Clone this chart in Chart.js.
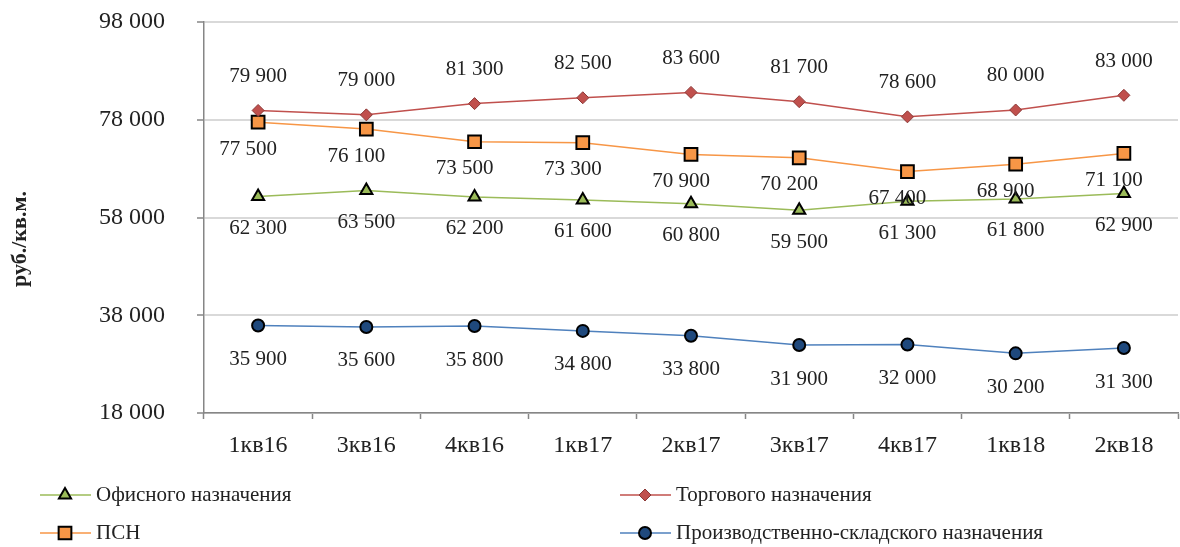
<!DOCTYPE html>
<html>
<head>
<meta charset="utf-8">
<script src="https://cdn.jsdelivr.net/npm/chart.js@4/dist/chart.umd.min.js"></script>
<style>
  html, body { margin: 0; padding: 0; background: #fff; width: 1180px; height: 547px; overflow: hidden; }
  #wrap { width: 1189px; height: 547px; position: relative; }
</style>
</head>
<body>
<div id="wrap"><canvas id="c"></canvas></div>
<script>
// ---- data ----
const categories = ['1кв16','3кв16','4кв16','1кв17','2кв17','3кв17','4кв17','1кв18','2кв18'];
const officeValues = [62300, 63500, 62200, 61600, 60800, 59500, 61300, 61800, 62900];
const retailValues = [79900, 79000, 81300, 82500, 83600, 81700, 78600, 80000, 83000];
const psnValues = [77500, 76100, 73500, 73300, 70900, 70200, 67400, 68900, 71100];
const industrialValues = [35900, 35600, 35800, 34800, 33800, 31900, 32000, 30200, 31300];
const seriesNames = ['Офисного назначения', 'Торгового назначения', 'ПСН', 'Производственно-складского назначения'];
const yMin = 18000, yMax = 98000, yStep = 20000;
const yTitle = 'руб./кв.м.';

const FONT = '"Liberation Serif", "Times New Roman", serif';
const fmt = v => String(v).replace(/\B(?=(\d{3})+(?!\d))/g, ' ');

const datasets = [
  { label: seriesNames[0], data: officeValues, borderColor: '#9bbb59', backgroundColor: '#9bbb59',
    pointStyle: 'triangle', pointRadius: 7, pointBorderColor: '#000', pointBorderWidth: 2, pointBackgroundColor: '#9bbb59',
    labelDx: 0, labelDy: 32 },
  { label: seriesNames[1], data: retailValues, borderColor: '#c0504d', backgroundColor: '#c0504d',
    pointStyle: 'rectRot', pointRadius: 6, pointBorderColor: '#8c3836', pointBorderWidth: 1, pointBackgroundColor: '#c0504d',
    labelDx: 0, labelDy: -34 },
  { label: seriesNames[2], data: psnValues, borderColor: '#f79646', backgroundColor: '#f79646',
    pointStyle: 'rect', pointRadius: 9, pointBorderColor: '#000', pointBorderWidth: 2, pointBackgroundColor: '#f79646',
    labelDx: -10, labelDy: 27 },
  { label: seriesNames[3], data: industrialValues, borderColor: '#4f81bd', backgroundColor: '#4f81bd',
    pointStyle: 'circle', pointRadius: 6, pointBorderColor: '#000', pointBorderWidth: 2, pointBackgroundColor: '#1f497d',
    labelDx: 0, labelDy: 34 }
];
datasets.forEach(d => { d.borderWidth = 1.5; d.tension = 0; d.pointHoverRadius = d.pointRadius; });

const labelPlugin = {
  id: 'valueLabels',
  afterDatasetsDraw(chart) {
    const ctx = chart.ctx;
    ctx.save();
    ctx.font = '21px ' + FONT;
    ctx.fillStyle = '#222';
    ctx.textAlign = 'center';
    ctx.textBaseline = 'middle';
    chart.data.datasets.forEach((ds, i) => {
      const meta = chart.getDatasetMeta(i);
      meta.data.forEach((pt, j) => {
        ctx.fillText(fmt(ds.data[j]), pt.x + ds.labelDx, pt.y + ds.labelDy);
      });
    });
    ctx.restore();
  }
};

const legendPlugin = {
  id: 'gridLegend',
  afterDraw(chart) {
    const ctx = chart.ctx;
    const cols = [40, 620];
    const rows = [495, 533];
    chart.data.datasets.forEach((ds, i) => {
      const x = cols[i % 2], y = rows[Math.floor(i / 2)];
      ctx.save();
      ctx.strokeStyle = ds.borderColor;
      ctx.lineWidth = 1.5;
      ctx.beginPath(); ctx.moveTo(x, y); ctx.lineTo(x + 51, y); ctx.stroke();
      ctx.fillStyle = ds.pointBackgroundColor;
      ctx.strokeStyle = ds.pointBorderColor;
      ctx.lineWidth = ds.pointBorderWidth;
      Chart.helpers.drawPoint(ctx, { pointStyle: ds.pointStyle, radius: ds.pointRadius, rotation: 0, borderWidth: ds.pointBorderWidth }, x + 25, y);
      ctx.fillStyle = '#222';
      ctx.font = '21px ' + FONT;
      ctx.textAlign = 'left';
      ctx.textBaseline = 'middle';
      ctx.fillText(ds.label, x + 56, y);
      ctx.restore();
    });
    // y axis title
    ctx.save();
    ctx.translate(20, 239);
    ctx.rotate(-Math.PI / 2);
    ctx.font = 'bold 22px ' + FONT;
    ctx.fillStyle = '#222';
    ctx.textAlign = 'center';
    ctx.textBaseline = 'middle';
    ctx.fillText(yTitle, 0, 0);
    ctx.restore();
  }
};

new Chart(document.getElementById('c'), {
  type: 'line',
  data: { labels: categories, datasets },
  plugins: [labelPlugin, legendPlugin],
  options: {
    responsive: true,
    maintainAspectRatio: false,
    animation: false,
    layout: { padding: { top: 22, right: 2, left: 0, bottom: 0 } },
    plugins: { legend: { display: false }, tooltip: { enabled: false } },
    scales: {
      x: {
        offset: true,
        grid: { offset: true, drawOnChartArea: false, drawTicks: true, tickLength: 6, tickColor: '#868686', tickWidth: 1.5 },
        border: { color: '#868686', width: 1.5 },
        ticks: { color: '#222', font: { family: FONT, size: 24 }, padding: 12, maxRotation: 0 },
        afterFit(scale) { scale.height = 134; scale.paddingLeft = 0; scale.paddingRight = 0; }
      },
      y: {
        min: yMin, max: yMax,
        grid: { color: '#d9d9d9', lineWidth: 2, tickLength: 7, tickColor: '#868686', tickWidth: 1.5 },
        border: { color: '#868686', width: 1.5 },
        ticks: { stepSize: yStep, color: '#222', font: { family: FONT, size: 24 }, padding: 32, callback: v => fmt(v) },
        title: { display: false, text: yTitle },
        afterFit(scale) { scale.width = 204; scale.paddingTop = 0; scale.paddingBottom = 0; }
      }
    }
  }
});
</script>
</body>
</html>
